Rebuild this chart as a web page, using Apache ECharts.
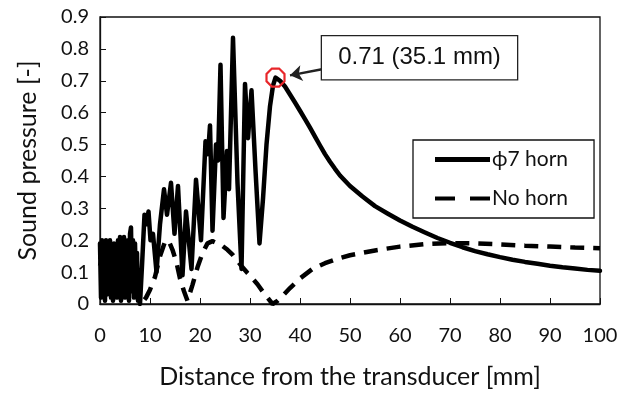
<!DOCTYPE html>
<html>
<head>
<meta charset="utf-8">
<script src="https://cdn.jsdelivr.net/npm/echarts@6/dist/echarts.min.js"></script>
<style>
  html, body { margin: 0; padding: 0; background: #fff; }
  #chart { width: 629px; height: 394px; }
</style>
</head>
<body>
<div id="chart"></div>
<script>
// distance from the transducer [mm]
const hornX = [0, 0.2, 0.4, 0.6, 0.8, 1.0, 1.2, 1.4, 1.6, 1.8, 2.0, 2.2, 2.4, 2.6, 2.8, 3.0, 3.2, 3.4, 3.6, 3.8,
  4.0, 4.2, 4.4, 4.6, 4.8, 5.0, 5.2, 5.4, 5.6, 5.8, 6.0, 6.2, 6.4, 6.6, 6.8, 7.0, 7.2, 7.4, 7.6, 7.8, 8.0,
  8.4, 8.9, 9.3, 9.7, 10.1, 10.6, 11.3, 12.0, 12.8, 13.4, 14.2, 14.9, 15.6,
  16.5, 17.2, 18.3, 19.2, 20.2, 21.1, 21.6, 22.0, 22.5, 23.2, 23.6, 24.1, 24.7, 25.4, 25.8, 26.6, 27.5, 28.3,
  29.0, 29.6, 30.3, 31.1, 31.9, 32.6, 33.3, 34.0, 34.6, 35.1, 36, 37, 38, 39, 40, 41, 42, 43, 44, 45, 46, 47,
  48, 50, 52.5, 55, 57.5, 60, 62.5, 65, 67.5, 70, 72.5, 75, 77.5, 80, 82.5, 85, 87.5, 90, 92.5, 95, 97.5, 100];
const hornY = [0.19, 0.02, 0.2, 0.04, 0.17, 0.01, 0.2, 0.03, 0.18, 0.06, 0.2, 0.02, 0.15, 0.01, 0.19, 0.04, 0.16, 0.02, 0.2, 0.05,
  0.21, 0.01, 0.17, 0.03, 0.21, 0.02, 0.15, 0.05, 0.2, 0.01, 0.22, 0.24, 0.04, 0.2, 0.02, 0.19, 0.06, 0.16, 0.01, 0.05, 0.0,
  0.12, 0.28, 0.25, 0.29, 0.2, 0.22, 0.1, 0.25, 0.36, 0.28, 0.38, 0.22, 0.37,
  0.09, 0.29, 0.11, 0.39, 0.2, 0.51, 0.47, 0.56, 0.23, 0.5, 0.45, 0.75, 0.27, 0.48, 0.36, 0.835, 0.38, 0.11,
  0.69, 0.52, 0.67, 0.42, 0.19, 0.33, 0.5, 0.62, 0.685, 0.71, 0.7, 0.682, 0.657, 0.632, 0.606, 0.58, 0.553, 0.525, 0.497, 0.47, 0.446, 0.424,
  0.403, 0.37, 0.337, 0.307, 0.284, 0.262, 0.242, 0.224, 0.207, 0.192, 0.178, 0.166, 0.156, 0.147, 0.139, 0.132, 0.126, 0.12, 0.115, 0.111, 0.107, 0.104];

const bareX = [0, 1, 2, 3, 4, 5, 6, 7, 8.2, 9.2, 10, 11, 12, 13, 13.7, 14.5, 15.3, 16, 16.8, 17.5, 18.5, 19.5, 20.5,
  21.5, 22.5, 23.5, 24.5, 25.5, 26.5, 27.5, 28.5, 29.5, 30.5, 31.5, 32.5, 33.5, 34.5, 35.5, 36.5, 38, 40, 42.5,
  45, 47.5, 50, 55, 60, 65, 70, 75, 80, 85, 90, 95, 100];
const bareY = [0.12, 0.18, 0.06, 0.15, 0.19, 0.1, 0.12, 0.05, 0, 0.02, 0.045, 0.085, 0.15, 0.195, 0.2, 0.17, 0.13, 0.08, 0.04, 0.01, 0.06, 0.115, 0.16,
  0.19, 0.197, 0.19, 0.182, 0.17, 0.155, 0.135, 0.115, 0.097, 0.08, 0.062, 0.04, 0.02, 0, 0.01, 0.025, 0.05, 0.08, 0.11,
  0.128, 0.142, 0.153, 0.168, 0.18, 0.188, 0.191, 0.19, 0.187, 0.183, 0.18, 0.177, 0.175];

const seriesNames = ['\u03d57 horn', 'No horn'];
const peak = [35.1, 0.71];
const peakText = '0.71 (35.1 mm)';

const pairs = (xs, ys) => xs.map((x, i) => [x, ys[i]]);

const chart = echarts.init(document.getElementById('chart'));
const axisFont = { fontFamily: 'Lato', fontSize: 20, color: '#111' };
const titleFont = { fontFamily: 'Lato', fontSize: 25, color: '#111' };

chart.setOption({
  animation: false,
  grid: {
    left: 100, right: 29, top: 17, bottom: 85,
    show: true, borderColor: '#111', borderWidth: 1.3,
  },
  xAxis: {
    type: 'value', min: 0, max: 100, interval: 10,
    name: 'Distance from the transducer [mm]',
    nameLocation: 'middle', nameGap: 60,
    nameTextStyle: titleFont,
    axisLine: { lineStyle: { color: '#111', width: 1.3 } },
    axisTick: { inside: true, length: 6, lineStyle: { color: '#111' } },
    axisLabel: Object.assign({ margin: 22 }, axisFont),
    splitLine: { show: false },
  },
  yAxis: {
    type: 'value', min: 0, max: 0.9, interval: 0.1,
    name: 'Sound pressure [-]',
    nameLocation: 'middle', nameGap: 60,
    nameTextStyle: titleFont,
    axisLine: { show: true, lineStyle: { color: '#111', width: 1.3 } },
    axisTick: { show: true, inside: true, length: 6, lineStyle: { color: '#111' } },
    axisLabel: Object.assign({ margin: 11 }, axisFont),
    splitLine: { show: false },
  },
  legend: {
    orient: 'vertical',
    left: 413, top: 140,
    padding: [9, 26, 9, 22],
    itemWidth: 55, itemHeight: 5, itemGap: 18,
    borderColor: '#111', borderWidth: 1.3,
    backgroundColor: '#fff',
    textStyle: { fontFamily: 'Lato', fontSize: 21, lineHeight: 21, color: '#111', padding: [0, 0, 0, -3] },
    data: [
      { name: seriesNames[0], icon: 'rect' },
      { name: seriesNames[1], icon: 'path://M0,0H20V4H0Z M35,0H55V4H35Z' },
    ],
  },
  series: [
    {
      name: seriesNames[0], type: 'line', symbol: 'none', z: 3,
      data: pairs(hornX, hornY),
      lineStyle: { color: '#000', width: 4.5, join: 'round', cap: 'round' },
      itemStyle: { color: '#000' },
      markPoint: {
        silent: true,
        data: [
          {
            coord: peak,
            symbol: 'path://M3,0 L7,0 L10,3 L10,7 L7,10 L3,10 L0,7 L0,3 Z',
            symbolSize: 18,
            itemStyle: { color: 'rgba(0,0,0,0)', borderColor: '#e8262a', borderWidth: 2.2 },
            label: { show: false },
          },
          {
            coord: [63.9, 0.772],
            symbol: 'rect', symbolSize: 1,
            itemStyle: { color: 'rgba(0,0,0,0)' },
            label: {
              show: true, position: 'inside', formatter: peakText,
              fontFamily: 'Liberation Sans', fontSize: 24, color: '#111',
              backgroundColor: '#fff', borderColor: '#222', borderWidth: 1.3,
              width: 157, height: 25, lineHeight: 25, align: 'center',
              padding: [9, 19],
            },
          },
        ],
      },
      markLine: {
        silent: true,
        symbol: ['none', 'arrow'], symbolSize: [12, 12],
        lineStyle: { color: '#222', width: 2.5, type: 'solid' },
        label: { show: false },
        data: [[{ coord: [44.4, 0.736] }, { coord: [38.0, 0.717] }]],
      },
    },
    {
      name: seriesNames[1], type: 'line', symbol: 'none', z: 2,
      data: pairs(bareX, bareY),
      lineStyle: { color: '#000', width: 4.5, type: [14, 9] },
      itemStyle: { color: '#000' },
    },
  ],
});
</script>
</body>
</html>
